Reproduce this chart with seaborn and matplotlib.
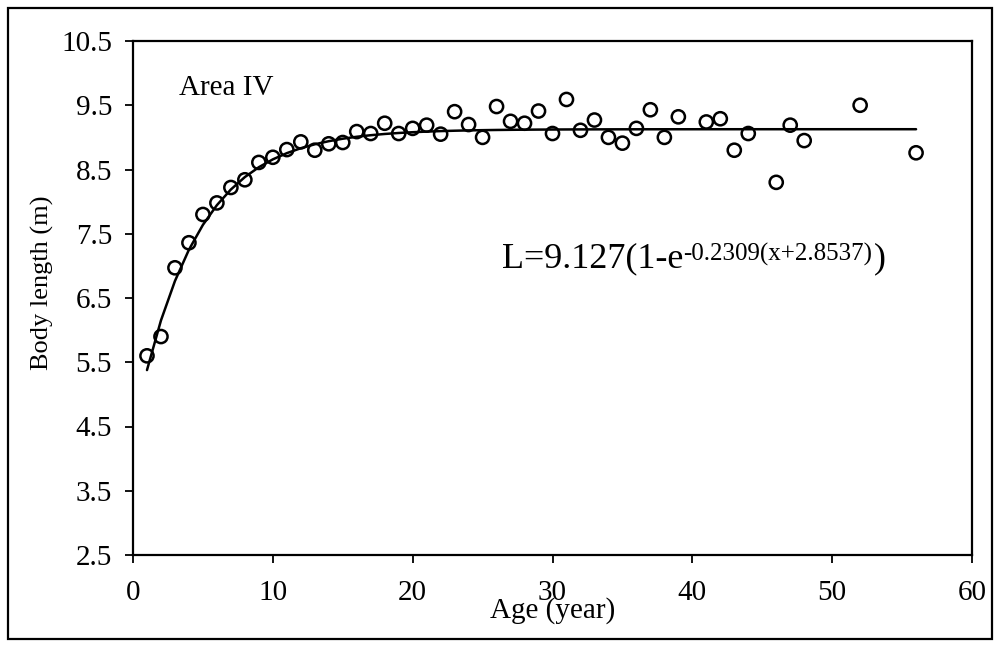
import numpy as np
import pandas as pd
import seaborn as sns
import matplotlib.pyplot as plt
from matplotlib.patches import Rectangle
from matplotlib.transforms import offset_copy

# ---- data ----
age = [1, 2, 3, 4, 5, 6, 7, 8, 9, 10,
       11, 12, 13, 14, 15, 16, 17, 18, 19, 20,
       21, 22, 23, 24, 25, 26, 27, 28, 29, 30,
       31, 32, 33, 34, 35, 36, 37, 38, 39,
       41, 42, 43, 44, 46, 47, 48, 52, 56]
body_length = [5.60, 5.90, 6.97, 7.36, 7.80, 7.98, 8.22, 8.34, 8.61, 8.69,
               8.81, 8.93, 8.80, 8.90, 8.92, 9.09, 9.06, 9.22, 9.06, 9.14,
               9.19, 9.05, 9.40, 9.20, 9.00, 9.48, 9.25, 9.22, 9.41, 9.06,
               9.59, 9.11, 9.27, 9.00, 8.91, 9.14, 9.43, 9.00, 9.32,
               9.24, 9.29, 8.80, 9.06, 8.30, 9.19, 8.95, 9.50, 8.76]

# von Bertalanffy fit shown on the chart
L_inf = 9.127
k = 0.2309
t0 = -2.8537
fit_age = list(range(1, 57))

x_ticks = [0, 10, 20, 30, 40, 50, 60]
y_ticks = [2.5, 3.5, 4.5, 5.5, 6.5, 7.5, 8.5, 9.5, 10.5]

pts = pd.DataFrame({"age": age, "length": body_length})
fit = pd.DataFrame({"age": fit_age,
                    "length": [L_inf * (1 - np.exp(-k * (a - t0))) for a in fit_age]})

sns.set_style("ticks")
plt.rcParams['font.family'] = ['Liberation Serif', 'DejaVu Serif']
plt.rcParams['text.color'] = 'black'
plt.rcParams['axes.labelcolor'] = 'black'
plt.rcParams['xtick.color'] = 'black'
plt.rcParams['ytick.color'] = 'black'

fig = plt.figure(figsize=(9.95, 6.48), dpi=100)
ax = fig.add_axes([133 / 995, 1 - 555 / 648, (972 - 133) / 995, (555 - 41) / 648])

sns.lineplot(data=fit, x="age", y="length", ax=ax, color="black", lw=1.8)
sns.scatterplot(data=pts, x="age", y="length", ax=ax, marker="o", s=90,
                facecolors="none", edgecolor="black", linewidth=1.8, zorder=3)

ax.set_xlim(0, 60)
ax.set_ylim(2.5, 10.5)
ax.set_xticks(x_ticks)
ax.set_xticklabels([str(v) for v in x_ticks])
ax.set_yticks(y_ticks)
ax.set_yticklabels([f"{v:.1f}" for v in y_ticks])
ax.tick_params(direction="out", length=6, width=1.3, labelsize=21,
               colors="black", labelcolor="black")
ax.tick_params(axis="y", pad=9)
ax.tick_params(axis="x", pad=12)
for s in ax.spines.values():
    s.set_visible(True)
    s.set_linewidth(1.6)
    s.set_color("black")

ax.set_xlabel("Age (year)", fontsize=21, color="black")
ax.xaxis.label.set_va("baseline")
ax.xaxis.set_label_coords(0.5, -0.122)
ax.set_ylabel("Body length (m)", fontsize=19, color="black")
ax.yaxis.set_label_coords(-0.094, 0.53)

ax.text(3.3, 9.66, "Area IV", fontsize=21, va="baseline", ha="left", color="black")

# equation
x0, y0 = 26.4, 6.98
t1 = ax.text(x0, y0, "L=9.127(1-e", fontsize=26, va="baseline", ha="left", color="black")
fig.canvas.draw()
r = fig.canvas.get_renderer()
w1 = t1.get_window_extent(r).width
t2 = ax.text(x0, y0, "-0.2309(x+2.8537)", fontsize=18, va="baseline", ha="left",
             color="black",
             transform=offset_copy(ax.transData, fig=fig, x=w1, y=7, units="dots"))
fig.canvas.draw()
w2 = t2.get_window_extent(r).width
ax.text(x0, y0, ")", fontsize=26, va="baseline", ha="left", color="black",
        transform=offset_copy(ax.transData, fig=fig, x=w1 + w2 + 1, y=0, units="dots"))

# outer frame
fig.add_artist(Rectangle((8 / 995, 1 - 639 / 648), (992 - 8) / 995, (639 - 8) / 648,
                         transform=fig.transFigure, fill=False, lw=1.6, ec="black"))

fig.savefig("out.png", dpi=100)
